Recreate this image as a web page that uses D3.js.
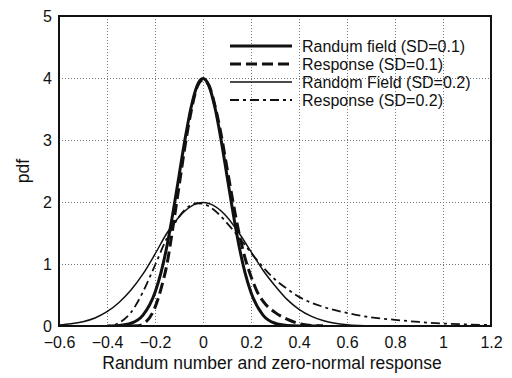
<!DOCTYPE html>
<html>
<head>
<meta charset="utf-8">
<script src="https://cdn.jsdelivr.net/npm/d3@7"></script>
<style>
  html, body { margin: 0; padding: 0; background: #fff; }
  svg { display: block; }
  text { font-family: "Liberation Sans", Arial, sans-serif; fill: #111; }
</style>
</head>
<body>
<svg id="chart" width="512" height="378"></svg>
<script>
// ---- data ----
const xTicks = [-0.6, -0.4, -0.2, 0, 0.2, 0.4, 0.6, 0.8, 1, 1.2];
const yTicks = [0, 1, 2, 3, 4, 5];

const rf01X = [-0.4, -0.35, -0.3, -0.25, -0.2, -0.175, -0.15, -0.125, -0.1, -0.075, -0.05, -0.025, 0, 0.025, 0.05, 0.075, 0.1, 0.125, 0.15, 0.175, 0.2, 0.25, 0.3, 0.35, 0.4, 0.5];
const rf01Y = [0.001, 0.009, 0.044, 0.175, 0.54, 0.86, 1.295, 1.83, 2.42, 3.01, 3.52, 3.87, 3.99, 3.87, 3.52, 3.01, 2.42, 1.83, 1.295, 0.86, 0.54, 0.175, 0.044, 0.009, 0.001, 0];

const resp01X = [-0.3, -0.27, -0.25, -0.2, -0.175, -0.15, -0.125, -0.1, -0.075, -0.05, -0.025, 0, 0.025, 0.05, 0.075, 0.1, 0.125, 0.15, 0.175, 0.2, 0.225, 0.25, 0.3, 0.35, 0.4, 0.45, 0.5];
const resp01Y = [0, 0.003, 0.03, 0.3, 0.6, 1.0, 1.6, 2.25, 2.9, 3.45, 3.85, 3.97, 3.88, 3.55, 3.1, 2.55, 2.0, 1.5, 1.1, 0.8, 0.56, 0.4, 0.22, 0.11, 0.04, 0.01, 0];

const rf02X = [-0.6, -0.55, -0.5, -0.45, -0.4, -0.35, -0.3, -0.25, -0.2, -0.15, -0.1, -0.05, 0, 0.05, 0.1, 0.15, 0.2, 0.25, 0.3, 0.35, 0.4, 0.45, 0.5, 0.55, 0.6, 0.65, 0.7, 0.8];
const rf02Y = [0.015, 0.035, 0.07, 0.13, 0.23, 0.38, 0.58, 0.84, 1.16, 1.5, 1.76, 1.93, 1.99, 1.93, 1.76, 1.5, 1.2, 0.9, 0.65, 0.43, 0.27, 0.16, 0.088, 0.045, 0.022, 0.01, 0.004, 0];

const resp02X = [-0.42, -0.4, -0.375, -0.35, -0.3, -0.25, -0.2, -0.15, -0.1, -0.05, -0.025, 0, 0.05, 0.1, 0.15, 0.2, 0.25, 0.3, 0.35, 0.4, 0.5, 0.6, 0.7, 0.8, 0.9, 1.0, 1.1, 1.2];
const resp02Y = [0, 0.002, 0.01, 0.05, 0.22, 0.55, 0.98, 1.42, 1.76, 1.95, 1.98, 1.97, 1.86, 1.66, 1.43, 1.18, 0.95, 0.75, 0.6, 0.47, 0.31, 0.21, 0.14, 0.1, 0.065, 0.04, 0.025, 0.015];

const seriesNames = ["Randum field (SD=0.1)", "Response (SD=0.1)", "Random Field (SD=0.2)", "Response (SD=0.2)"];

// ---- layout ----
const svg = d3.select("#chart");
const m = { left: 59, right: 491, top: 16, bottom: 326 };
const x = d3.scaleLinear().domain([-0.6, 1.2]).range([m.left, m.right]);
const y = d3.scaleLinear().domain([0, 5]).range([m.bottom, m.top]);
const fmt = d => d3.format("~g")(d);

svg.append("defs").append("clipPath").attr("id", "clip")
  .append("rect").attr("x", m.left).attr("y", m.top)
  .attr("width", m.right - m.left).attr("height", m.bottom - m.top);

// grid
const gx = svg.append("g").attr("transform", `translate(0,${m.bottom})`)
  .call(d3.axisBottom(x).tickValues(xTicks).tickSize(-(m.bottom - m.top)).tickFormat(""));
const gy = svg.append("g").attr("transform", `translate(${m.left},0)`)
  .call(d3.axisLeft(y).tickValues(yTicks).tickSize(-(m.right - m.left)).tickFormat(""));
[gx, gy].forEach(g => {
  g.select(".domain").remove();
  g.selectAll(".tick line").attr("stroke", "#777").attr("stroke-width", 1)
    .attr("stroke-dasharray", "1,2");
});

// axis labels
const ax = svg.append("g").attr("transform", `translate(0,${m.bottom})`)
  .call(d3.axisBottom(x).tickValues(xTicks).tickSize(0).tickPadding(0).tickFormat(fmt));
ax.select(".domain").remove();
ax.selectAll("text").attr("y", 22).attr("dy", null)
  .style("font-size", "16px").style("font-family", "Liberation Sans, Arial, sans-serif").attr("fill", "#111");

const ay = svg.append("g").attr("transform", `translate(${m.left},0)`)
  .call(d3.axisLeft(y).tickValues(yTicks).tickSize(0).tickPadding(7).tickFormat(fmt));
ay.select(".domain").remove();
ay.selectAll("text").style("font-size", "16px").style("font-family", "Liberation Sans, Arial, sans-serif").attr("fill", "#111");

// titles
svg.append("text").attr("x", 272).attr("y", 369).attr("text-anchor", "middle")
  .style("font-size", "17.5px").text("Randum number and zero-normal response");
svg.append("text").attr("transform", `translate(29,${(m.top + m.bottom) / 2}) rotate(-90)`)
  .attr("text-anchor", "middle").style("font-size", "17.5px").text("pdf");

// curves
const line = d3.line().x(d => x(d[0])).y(d => y(d[1])).curve(d3.curveMonotoneX);
const zip = (a, b) => a.map((v, i) => [v, b[i]]);
const styles = [
  { data: zip(rf01X, rf01Y), w: 3, dash: null },
  { data: zip(resp01X, resp01Y), w: 3, dash: "11,5" },
  { data: zip(rf02X, rf02Y), w: 1.5, dash: null },
  { data: zip(resp02X, resp02Y), w: 1.8, dash: "9,4,3,4" }
];
const plot = svg.append("g").attr("clip-path", "url(#clip)");
styles.forEach(s => {
  plot.append("path").attr("d", line(s.data)).attr("fill", "none")
    .attr("stroke", "#111").attr("stroke-width", s.w)
    .attr("stroke-dasharray", s.dash).attr("stroke-linejoin", "round");
});

// frame
svg.append("rect").attr("x", m.left).attr("y", m.top)
  .attr("width", m.right - m.left).attr("height", m.bottom - m.top)
  .attr("fill", "none").attr("stroke", "#111").attr("stroke-width", 2);

// legend
const lg = svg.append("g");
const rowY = [46, 64, 82, 100];
seriesNames.forEach((name, i) => {
  lg.append("line").attr("x1", 230).attr("x2", 292).attr("y1", rowY[i]).attr("y2", rowY[i])
    .attr("stroke", "#111").attr("stroke-width", styles[i].w)
    .attr("stroke-dasharray", styles[i].dash);
  lg.append("text").attr("x", 302).attr("y", rowY[i]).attr("dy", "0.35em")
    .style("font-size", "16px").text(name);
});
</script>
</body>
</html>
